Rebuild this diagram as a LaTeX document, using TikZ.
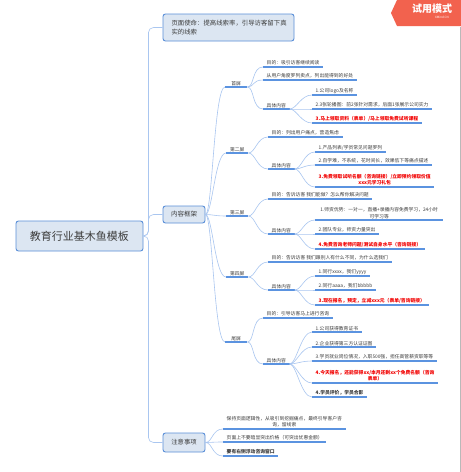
\documentclass[tikz,border=0pt]{standalone}
\usepackage{fontspec}
\setmainfont{Noto Sans CJK SC}
\definecolor{conn}{HTML}{A9C6F0}
\definecolor{ul}{HTML}{5B93E0}
\definecolor{boxfill}{HTML}{DCE6F2}
\definecolor{boxdraw}{HTML}{5A8FD8}
\definecolor{txt}{HTML}{3C3C3C}
\definecolor{redt}{HTML}{F20000}
\definecolor{tagred}{HTML}{F2624E}
\newcommand\fs{\fontsize{4.8}{6.6}\selectfont}
\newcommand\lnk[2]{\draw[cn] (#1) .. controls +(7,0) and +(-11,0) .. (#2.south west);}
\begin{document}
\begin{tikzpicture}[x=1pt,y=-1pt,
 cn/.style={draw=conn,line width=0.6pt},
 uline/.style={draw=ul,line width=1.3pt},
 leaf/.style={anchor=south west,inner xsep=3.5pt,inner ysep=1.4pt,font=\fs,text=txt,align=center,
   append after command={(\tikzlastnode.south west) edge[uline] (\tikzlastnode.south east)}},
 hot/.style={leaf,text=redt,font=\fs\bfseries},
 strong/.style={leaf,font=\fs\bfseries},
 screen/.style={leaf,minimum width=22pt},
 topic/.style={draw=boxdraw,fill=boxfill,line width=0.9pt,rounded corners=2.5pt,text=txt}]
\useasboundingbox (0,0) rectangle (461,472);
\fill[white] (0,0) rectangle (461,472);

% watermark tag
\fill[tagred] (391,13) -- (397,0) -- (461,0) -- (461,26) -- (397,26) -- cycle;
\node[text=white,font=\fontsize{10}{10}\selectfont\bfseries,inner sep=0pt] (tag) at (432,8.5) {试用模式};
\node[text=white,font=\fontsize{3}{3}\selectfont,inner sep=0pt,anchor=east] (tagsub) at (449,17) {XMind.CN};
\draw[gray!55,line width=0.8pt] (460,27) -- (460,472);

% main topics
\node[topic,minimum width=127pt,minimum height=30pt,font=\fontsize{11}{11}\selectfont] (root) at (79.5,236) {教育行业基木鱼模板};
\node[topic,minimum width=131pt,minimum height=27pt,text width=114pt,inner xsep=8.5pt,align=left,
  font=\fontsize{6.4}{9}\selectfont] (mission) at (228.5,27.5) {页面使命：提高线索率，引导访客留下真\\实的线索};
\node[topic,minimum width=42pt,minimum height=17pt,font=\fontsize{6.5}{6.5}\selectfont] (content) at (184,214.5) {内容框架};
\node[topic,minimum width=42pt,minimum height=19pt,font=\fontsize{6.3}{6.3}\selectfont] (notes) at (184,442.5) {注意事项};

\draw[cn,rounded corners=5pt] (root.east) -- ++(5,0) |- (mission.west);
\draw[cn,rounded corners=5pt] (root.east) -- ++(5,0) |- (content.west);
\draw[cn,rounded corners=5pt] (root.east) -- ++(5,0) |- (notes.west);

% screens
\node[screen] (s1) at (225,87) {首屏};
\node[screen] (s2) at (226,153) {第二屏};
\node[screen] (s3) at (226,216) {第三屏};
\node[screen] (s4) at (226,277) {第四屏};
\node[screen] (s5) at (225,342) {尾屏};
\foreach \s in {s1,s2,s3,s4,s5}{\lnk{content.east}{\s}}

% screen 1
\node[leaf] (a1) at (263,67) {目的：吸引访客继续阅读};
\node[leaf] (a2) at (263,80) {从用户角度罗列卖点，列出能得到的好处};
\node[leaf] (a3) at (263,109) {具体内容};
\foreach \c in {a1,a2,a3}{\lnk{s1.south east}{\c}}
\node[leaf] (a31) at (312,95) {1.公司logo及名称};
\node[leaf] (a32) at (312,109) {2.3张轮播图：前2张针对需求，后面1张展示公司实力};
\node[hot] (a33) at (312,123) {3.马上领取资料（表单）/马上领取免费试听课程};
\foreach \c in {a31,a32,a33}{\lnk{a3.south east}{\c}}

% screen 2
\node[leaf] (b1) at (268,137) {目的：列出用户痛点，营造焦虑};
\node[leaf] (b2) at (268,169) {具体内容};
\foreach \c in {b1,b2}{\lnk{s2.south east}{\c}}
\node[leaf] (b21) at (315,152) {1.产品列表/学员常见问题罗列};
\node[leaf] (b22) at (315,165) {2.自学难，不系统，花时间长，效果低下等痛点描述};
\node[hot] (b23) at (315,187) {3.免费领取试听名额（咨询链接）/立即预约领取价值\\xxx元学习礼包};
\foreach \c in {b21,b22,b23}{\lnk{b2.south east}{\c}}

% screen 3
\node[leaf] (c1) at (268,199) {目的：告诉访客 我们能做？怎么帮你解决问题};
\node[leaf] (c2) at (268,234) {具体内容};
\foreach \c in {c1,c2}{\lnk{s3.south east}{\c}}
\node[leaf,text width=121pt] (c21) at (315,220) {1.师资优势：一对一，直播+录播内容免费学习，24小时\\可学习等};
\node[leaf] (c22) at (315,234) {2.团队专业，师资力量突出};
\node[hot] (c23) at (315,249) {4.免费咨询老师问题/测试自身水平（咨询链接）};
\foreach \c in {c21,c22,c23}{\lnk{c2.south east}{\c}}

% screen 4
\node[leaf] (d1) at (268,262) {目的：告诉访客 我们跟别人有什么不同，为什么选我们};
\node[leaf] (d2) at (268,290) {具体内容};
\foreach \c in {d1,d2}{\lnk{s4.south east}{\c}}
\node[leaf] (d21) at (315,276) {1.同行xxxx，我们yyyy};
\node[leaf] (d22) at (315,290) {2.同行aaaa，我们bbbbb};
\node[hot] (d23) at (315,305) {3.现在报名，预定，立减xxx元（表单/咨询链接）};
\foreach \c in {d21,d22,d23}{\lnk{d2.south east}{\c}}

% last screen
\node[leaf] (e1) at (263,318) {目的：引导访客马上进行咨询};
\node[leaf] (e2) at (263,364) {具体内容};
\foreach \c in {e1,e2}{\lnk{s5.south east}{\c}}
\node[leaf] (e21) at (312,332) {1.公司获得教育证书};
\node[leaf] (e22) at (312,347) {2.企业获得第三方认证证图};
\node[leaf] (e23) at (312,361) {3.学员就业岗位情况，入职500强，担任高管薪资职等等};
\node[hot] (e24) at (312,383) {4.今天报名，还能获得xx/本月还剩xx个免费名额（咨询\\表单）};
\node[strong] (e25) at (312,397) {4.学员评价，学员合影};
\foreach \c in {e21,e22,e23,e24,e25}{\lnk{e2.south east}{\c}}

% notes
\node[leaf] (n1) at (223,429) {保持页面逻辑性，从吸引到挖掘痛点，最终引导客户咨\\询，留线索};
\node[leaf] (n2) at (223,442) {页面上不要暗显突出价格（可突出优惠金额）};
\node[strong] (n3) at (223,456) {要有右侧浮动咨询窗口};
\foreach \c in {n1,n2,n3}{\lnk{notes.east}{\c}}
\end{tikzpicture}
\end{document}
